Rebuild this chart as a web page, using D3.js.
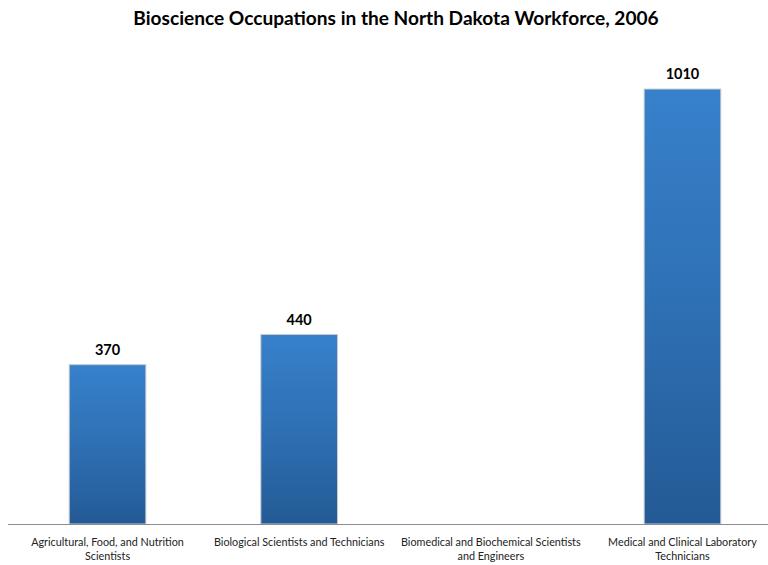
<!DOCTYPE html>
<html><head><meta charset="utf-8">
<script src="https://cdn.jsdelivr.net/npm/d3@7"></script>
<style>body{margin:0;background:#fff;}svg{display:block;}</style>
</head><body>
<script>
const categories = [
  "Agricultural, Food, and Nutrition Scientists",
  "Biological Scientists and Technicians",
  "Biomedical and Biochemical Scientists and Engineers",
  "Medical and Clinical Laboratory Technicians"
];
const categoryLines = [
  ["Agricultural, Food, and Nutrition", "Scientists"],
  ["Biological Scientists and Technicians"],
  ["Biomedical and Biochemical Scientists", "and Engineers"],
  ["Medical and Clinical Laboratory", "Technicians"]
];
const values = [370, 440, null, 1010];
const title = "Bioscience Occupations in the North Dakota Workforce, 2006";

const W = 768, H = 565;
const svg = d3.select("body").append("svg").attr("width", W).attr("height", H);
const font = "Lato, 'Open Sans', sans-serif";

const defs = svg.append("defs");
const grad = defs.append("linearGradient").attr("id", "barGrad")
  .attr("x1", 0).attr("y1", 0).attr("x2", 0).attr("y2", 1);
grad.append("stop").attr("offset", "0%").attr("stop-color", "#3781CB");
grad.append("stop").attr("offset", "50%").attr("stop-color", "#2E70B4");
grad.append("stop").attr("offset", "100%").attr("stop-color", "#245A95");

const x = d3.scaleBand().domain(categories).range([11.7, 778.3]).paddingInner(0.6).paddingOuter(0.3);
const y = d3.scaleLinear().domain([0, 1200]).range([524, 7.2]);

svg.append("text").attr("x", 396).attr("y", 25).attr("text-anchor", "middle")
  .attr("font-family", font).attr("font-weight", "bold").attr("font-size", 19.1)
  .attr("fill", "#000").text(title);

const data = categories.map((c, i) => ({c, v: values[i], lines: categoryLines[i]}));

svg.selectAll("rect.bar").data(data.filter(d => d.v != null)).enter().append("rect")
  .attr("class", "bar")
  .attr("x", d => x(d.c)).attr("width", x.bandwidth())
  .attr("y", d => y(d.v)).attr("height", d => y(0) - y(d.v))
  .attr("fill", "url(#barGrad)")
  .attr("stroke", "#c8ccd2").attr("stroke-width", 1);

svg.selectAll("text.val").data(data.filter(d => d.v != null)).enter().append("text")
  .attr("class", "val")
  .attr("x", d => x(d.c) + x.bandwidth() / 2).attr("y", d => y(d.v) - 10)
  .attr("text-anchor", "middle").attr("font-family", font).attr("font-weight", "bold")
  .attr("font-size", 14.5).attr("fill", "#000").text(d => d.v);

svg.append("line").attr("x1", 8).attr("x2", 768).attr("y1", y(0) + 0.5).attr("y2", y(0) + 0.5)
  .attr("stroke", "#8c8c8c").attr("stroke-width", 1);

const lab = svg.selectAll("text.cat").data(data).enter().append("text")
  .attr("class", "cat")
  .attr("text-anchor", "middle").attr("font-family", font).attr("font-size", 10.8)
  .attr("fill", "#222");
lab.selectAll("tspan").data(d => d.lines.map(l => ({l, cx: x(d.c) + x.bandwidth() / 2}))).enter()
  .append("tspan").attr("x", t => t.cx).attr("y", (t, i) => 546 + i * 14).text(t => t.l);
</script>
</body></html>
